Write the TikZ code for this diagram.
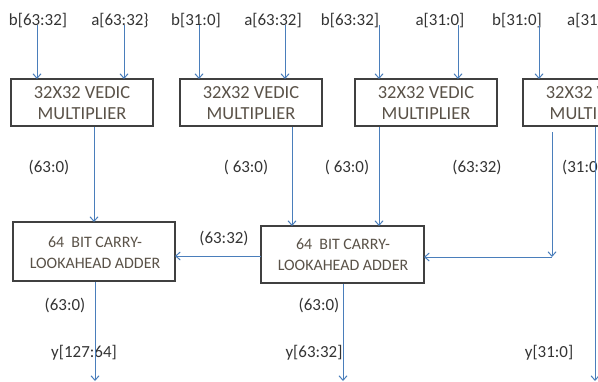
\documentclass[tikz,border=0pt]{standalone}
\usepackage{fontspec}
\setmainfont{Carlito}
\usetikzlibrary{arrows.meta}
\definecolor{lineblue}{HTML}{4A7EBB}
\definecolor{boxedge}{HTML}{404040}
\definecolor{boxtext}{HTML}{5A5248}
\definecolor{labtext}{HTML}{333333}
\tikzset{
  mult/.style={draw=boxedge, line width=2.2bp, fill=white, inner sep=0pt},
  boxlbl/.style={text=boxtext, font=\fontsize{18.5}{21}\selectfont, align=center, inner sep=0pt},
  addlbl/.style={text=boxtext, font=\fontsize{16}{21}\selectfont, align=center, inner sep=0pt},
  lbl/.style={text=labtext, font=\fontsize{17}{20}\selectfont, inner sep=0pt},
  conn/.style={draw=lineblue, line width=1bp, -{Straight Barb[length=4.5bp,width=8bp]}},
  plain/.style={draw=lineblue, line width=1bp}
}
\begin{document}
\begin{tikzpicture}[x=1bp,y=-1bp]
\useasboundingbox (0,0) rectangle (598,381);
\clip (0,0) rectangle (598,381);
% multiplier boxes
\draw[mult] (11,79) rectangle (153,126);
\draw[mult] (180,79) rectangle (322,126);
\draw[mult] (355,79) rectangle (497,126);
\draw[mult] (523,79) rectangle (665,126);
\node[boxlbl] (m1) at (82,103) {32X32 VEDIC\\MULTIPLIER};
\node[boxlbl] (m2) at (251,103) {32X32 VEDIC\\MULTIPLIER};
\node[boxlbl] (m3) at (426,103) {32X32 VEDIC\\MULTIPLIER};
\node[boxlbl] (m4) at (594,103) {32X32 VEDIC\\MULTIPLIER};
% adders
\draw[mult] (13,222) rectangle (175,281);
\draw[mult] (261,226) rectangle (424,283);
\node[addlbl] (a1) at (95,253) {64~~BIT CARRY-\\LOOKAHEAD ADDER};
\node[addlbl] (a2) at (343,255) {64~~BIT CARRY-\\LOOKAHEAD ADDER};
% top labels
\node[lbl] (t1) at (38,21) {b[63:32]};
\node[lbl] (t2) at (120,21) {a[63:32\}};
\node[lbl] (t3) at (196,21) {b[31:0]};
\node[lbl] (t4) at (273,21) {a[63:32]};
\node[lbl] (t5) at (350,21) {b[63:32]};
\node[lbl] (t6) at (440,21) {a[31:0]};
\node[lbl] (t7) at (517,21) {b[31:0]};
\node[lbl,anchor=west] (t8) at (567,21) {a[31:0]};
% input coordinates
\coordinate (i1) at (37,25);   \coordinate (o1) at (37,79);
\coordinate (i2) at (124,25);  \coordinate (o2) at (124,79);
\coordinate (i3) at (199,25);  \coordinate (o3) at (199,79);
\coordinate (i4) at (285,25);  \coordinate (o4) at (285,79);
\coordinate (i5) at (379,25);  \coordinate (o5) at (379,79);
\coordinate (i6) at (458,25);  \coordinate (o6) at (458,79);
\coordinate (i7) at (539,25);  \coordinate (o7) at (539,79);
\foreach \k in {1,...,7} { \draw[conn] (i\k) -- (o\k); }
% middle labels
\node[lbl] (l1) at (49,167) {(63:0)};
\node[lbl] (l2) at (246,167) {( 63:0)};
\node[lbl] (l3) at (347,167) {( 63:0)};
\node[lbl] (l4) at (477,167) {(63:32)};
\node[lbl,anchor=west] (l5) at (562,167) {(31:0)};
\node[lbl] (l6) at (224,238) {(63:32)};
\node[lbl] (l7) at (65,305) {(63:0)};
\node[lbl] (l8) at (319,305) {(63:0)};
\node[lbl] (y1) at (84,353) {y[127:64]};
\node[lbl] (y2) at (314,353) {y[63:32]};
\node[lbl] (y3) at (549,353) {y[31:0]};
% connector points
\coordinate (b1) at (94,127);   \coordinate (d1) at (94,222);
\coordinate (b2) at (292,127);  \coordinate (d2) at (292,226);
\coordinate (b3) at (379,127);  \coordinate (d3) at (379,226);
\coordinate (b4) at (552,132);  \coordinate (c4) at (552,257);
\coordinate (a2e) at (424,257);
\coordinate (a2w) at (261,256); \coordinate (a1e) at (175,256);
\coordinate (s1) at (95,282);   \coordinate (e1) at (95,381);
\coordinate (s2) at (343,284);  \coordinate (e2) at (343,381);
\coordinate (s3) at (595,127);  \coordinate (e3) at (595,381);
\draw[conn] (b1) -- (d1);
\draw[conn] (b2) -- (d2);
\draw[conn] (b3) -- (d3);
\draw[conn] (b4) -- (c4);
\draw[conn] (c4) -- (a2e);
\draw[conn] (a2w) -- (a1e);
\draw[conn] (s1) -- (e1);
\draw[conn] (s2) -- (e2);
\draw[conn] (s3) -- (e3);
\end{tikzpicture}
\end{document}
